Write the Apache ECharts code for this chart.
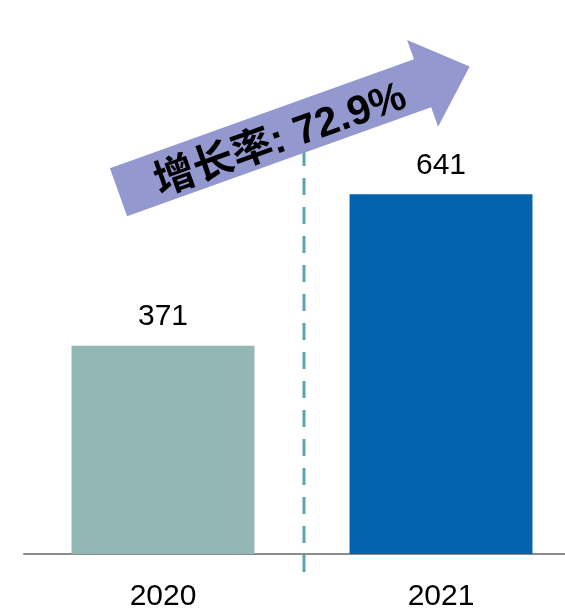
<!DOCTYPE html>
<html>
<head>
<meta charset="utf-8">
<script src="https://cdn.jsdelivr.net/npm/echarts@6/dist/echarts.min.js"></script>
<style>html,body{margin:0;padding:0;background:#fff}#c{width:565px;height:612px}</style>
</head>
<body>
<div id="c"></div>
<script>
const categories = ['2020', '2021'];
const values = [371, 641];
const barColors = ['#93b7b5', '#0563ad'];
const growthText = '增长率: 72.9%';

const FONT = "'Liberation Sans', Arial, 'Noto Sans CJK SC', sans-serif";
const chart = echarts.init(document.getElementById('c'), null, {renderer: 'canvas'});
chart.setOption({
  animation: false,
  backgroundColor: '#ffffff',
  grid: {left: 24, width: 556, top: 105, bottom: 58, containLabel: false, outerBoundsMode: 'none'},
  xAxis: {
    type: 'category', data: categories,
    axisLine: {show: true, lineStyle: {color: '#8c8c8c', width: 2}},
    axisTick: {show: false},
    axisLabel: {fontFamily: FONT, fontSize: 30, color: '#000', margin: 28}
  },
  yAxis: {type: 'value', min: 0, max: 800, show: false, splitLine: {show: false}},
  series: [{
    type: 'bar', barWidth: '65.8%',
    data: values.map((v, i) => ({value: v, itemStyle: {color: barColors[i]}})),
    label: {show: true, position: 'top', distance: 14, fontFamily: FONT, fontSize: 30, color: '#000'}
  }]
});

function drawDecor() {
  const p0 = chart.convertToPixel({seriesIndex: 0}, [0, values[0]]);
  const p1 = chart.convertToPixel({seriesIndex: 0}, [1, values[1]]);
  const base = chart.convertToPixel({seriesIndex: 0}, [0, 0]);
  const midX = (p0[0] + p1[0]) / 2 + 2;
  const tailX = p0[0] - 44.5;
  const tailY = p1[1] - 2;
  const ang = 19.7 * Math.PI / 180;
  chart.setOption({
    graphic: [
      {
        type: 'line', z: 50,
        shape: {x1: midX, y1: base[1] + 18, x2: midX, y2: 150},
        style: {stroke: '#5ba4b0', lineWidth: 3, lineDash: [17, 12]}
      },
      {
        type: 'group', x: tailX, y: tailY, rotation: ang, z: 100,
        children: [
          {
            type: 'polygon', z: 100,
            shape: {points: [[0, -25.5], [323, -25.5], [323, -46], [373, 0], [323, 46], [323, 25.5], [0, 25.5]]},
            style: {fill: '#9398cf'}
          },
          {
            type: 'text', z: 101, x: 170, y: 6,
            style: {text: growthText, fontFamily: "'Liberation Sans', Arial, 'Noto Sans CJK SC', sans-serif",
              fontWeight: 'bold', fontSize: 41, fill: '#000', align: 'center', verticalAlign: 'middle'}
          }
        ]
      }
    ]
  });
}
drawDecor();
</script>
</body>
</html>
